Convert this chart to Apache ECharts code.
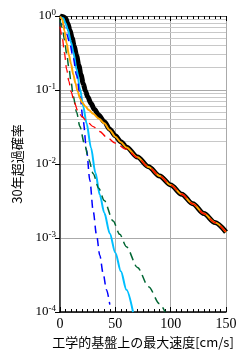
<!DOCTYPE html>
<html><head><meta charset="utf-8">
<script src="https://cdn.jsdelivr.net/npm/echarts@6/dist/echarts.min.js"></script>
<style>html,body{margin:0;padding:0;background:#fff}#c{width:247px;height:357px}</style>
</head><body><div id="c"></div>
<script>
// ---- data (velocity [cm/s] vs 30-year exceedance probability) ----
const xTicks = [0, 50, 100, 150];
const yTicks = [1e-4, 1e-3, 1e-2, 1e-1, 1];

const totalX = [0, 3, 5, 7, 9, 11, 13, 15, 17, 19, 21, 23, 25, 28, 31, 35, 40, 45, 50, 55, 60, 70, 80, 90, 100, 110, 120, 130, 140, 150];
const totalY = [1.0, 0.98, 0.93, 0.8, 0.64, 0.5, 0.38, 0.29, 0.215, 0.16, 0.122, 0.097, 0.081, 0.066, 0.055, 0.046, 0.0372, 0.0295, 0.024, 0.02, 0.017, 0.0124, 0.0092, 0.0069, 0.0052, 0.0039, 0.0029, 0.00214, 0.00162, 0.0012];

const orangeX = [0, 2, 4, 6, 8, 10, 12, 14, 16, 18, 20, 23, 26, 30, 35, 40, 45, 50, 55, 60, 70, 80, 90, 100, 110, 120, 130, 140, 150];
const orangeY = [0.98, 0.91, 0.63, 0.427, 0.3, 0.224, 0.162, 0.123, 0.0955, 0.0776, 0.0676, 0.06, 0.0537, 0.0479, 0.0412, 0.0355, 0.0288, 0.0234, 0.0196, 0.0167, 0.0123, 0.0091, 0.0069, 0.0052, 0.0039, 0.0029, 0.00214, 0.00162, 0.0012];

const redX = [0, 2, 4, 6, 8, 10, 13, 16, 20, 24, 30, 36, 42, 50, 60, 70, 80, 90, 100, 110, 120, 130, 140, 150];
const redY = [0.72, 0.52, 0.316, 0.19, 0.132, 0.095, 0.068, 0.0525, 0.0435, 0.038, 0.032, 0.0275, 0.0232, 0.0192, 0.0158, 0.0122, 0.0091, 0.0069, 0.0052, 0.0039, 0.0029, 0.00214, 0.00162, 0.0012];

const greenX = [0, 2, 4, 6, 8, 10, 12, 15, 18, 22, 26, 30, 35, 40, 48, 54, 60, 70, 80, 90, 95];
const greenY = [0.88, 0.7, 0.48, 0.31, 0.2, 0.128, 0.082, 0.05, 0.032, 0.019, 0.0115, 0.0074, 0.0047, 0.0032, 0.0017, 0.00112, 0.00076, 0.0004, 0.00022, 0.000129, 0.0001];

const blueX = [0, 3, 6, 9, 12, 15, 18, 21, 24, 27, 30, 33, 36, 39, 42, 45];
const blueY = [0.8, 0.76, 0.575, 0.417, 0.269, 0.158, 0.085, 0.038, 0.0155, 0.006, 0.0023, 0.0011, 0.00058, 0.00033, 0.0002, 0.000126];

const cyanX = [0, 3, 5, 7, 10, 12, 15, 18, 21, 24, 28, 32, 36, 40, 45, 50, 55, 60, 66];
const cyanY = [0.97, 0.93, 0.8, 0.66, 0.44, 0.33, 0.19, 0.105, 0.06, 0.0355, 0.0166, 0.0076, 0.0038, 0.00219, 0.00115, 0.00063, 0.000355, 0.0002, 0.0001];

const pairs = (xs, ys) => xs.map((x, i) => [x, ys[i]]);

// minor log grid values
const minorGrid = [];
for (let e = -4; e < 0; e++) for (let m = 2; m <= 9; m++) minorGrid.push(m * Math.pow(10, e));

const serif = '"Liberation Serif","DejaVu Serif",serif';
const cjk = '"Noto Sans CJK JP",sans-serif';

const dash = [8, 5];
function line(name, xs, ys, color, width, type, z) {
  return { name, type: 'line', data: pairs(xs, ys), showSymbol: false, smooth: 0.3, smoothMonotone: 'x', z,
    lineStyle: { color, width, type }, xAxisIndex: 0, yAxisIndex: 0 };
}

const series = [
  line('total', totalX, totalY, '#000000', 5, 'solid', 2),
  line('cyan', cyanX, cyanY, '#00BFFF', 2, 'solid', 3),
  line('blue', blueX, blueY, '#0000FF', 1.5, dash, 4),
  line('green', greenX, greenY, '#006633', 1.5, dash, 4),
  line('orange', orangeX, orangeY, '#FFA500', 2, 'solid', 5),
  line('red', redX, redY, '#FF0000', 1.3, dash, 6),
];
series[0].markLine = {
  silent: true, symbol: 'none', label: { show: false }, animation: false, z: 0,
  lineStyle: { color: '#c8c8c8', width: 1, type: 'solid' },
  data: minorGrid.map(v => ({ yAxis: v }))
};

const chart = echarts.init(document.getElementById('c'), null, { renderer: 'canvas' });
chart.setOption({
  animation: false,
  backgroundColor: '#fff',
  grid: { left: 60, right: 21, top: 16, bottom: 45, containLabel: false },
  xAxis: [{
    type: 'value', min: xTicks[0], max: xTicks[xTicks.length - 1], interval: 50,
    name: '工学的基盤上の最大速度[cm/s]', nameLocation: 'middle', nameGap: 21,
    nameTextStyle: { fontFamily: cjk, fontSize: 13, color: '#000' },
    axisLine: { onZero: false, lineStyle: { color: '#000', width: 1.5 } },
    axisTick: { inside: true, length: 5, lineStyle: { color: '#000' } },
    minorTick: { show: true, splitNumber: 10, length: 3, lineStyle: { color: '#000' } },
    axisLabel: { fontFamily: serif, fontSize: 14, color: '#000', margin: 5 },
    splitLine: { show: true, lineStyle: { color: '#aaa', width: 1 } },
  }, {
    type: 'value', position: 'top', min: 0, max: 150, interval: 50,
    axisLine: { onZero: false, lineStyle: { color: '#555', width: 1 } },
    axisTick: { inside: true, length: 5, lineStyle: { color: '#000' } },
    minorTick: { show: true, splitNumber: 10, length: 3, lineStyle: { color: '#000' } },
    axisLabel: { show: false }, splitLine: { show: false }
  }],
  yAxis: [{
    type: 'log', logBase: 10, min: yTicks[0], max: yTicks[yTicks.length - 1], interval: 1,
    name: '30年超過確率', nameLocation: 'middle', nameGap: 36,
    nameTextStyle: { fontFamily: cjk, fontSize: 13, color: '#000' },
    axisLine: { show: true, lineStyle: { color: '#000', width: 1.5 } },
    axisTick: { show: true, inside: false, length: 3, lineStyle: { color: '#000' } },
    axisLabel: {
      margin: 4,
      formatter: v => '{b|10}{s|' + Math.round(Math.log10(v)) + '}',
      rich: {
        b: { fontFamily: serif, fontSize: 13, color: '#000' },
        s: { fontFamily: serif, fontSize: 9, color: '#000', verticalAlign: 'top', padding: [0, 0, 7, 0] }
      }
    },
    splitLine: { show: true, lineStyle: { color: '#aaa', width: 1 } },
  }, {
    type: 'log', logBase: 10, position: 'right', min: 1e-4, max: 1, interval: 1,
    axisLine: { show: true, lineStyle: { color: '#555', width: 1 } },
    axisTick: { show: true, inside: true, length: 5, lineStyle: { color: '#000' } },
    axisLabel: { show: false }, splitLine: { show: false }
  }],
  series
});
</script></body></html>
